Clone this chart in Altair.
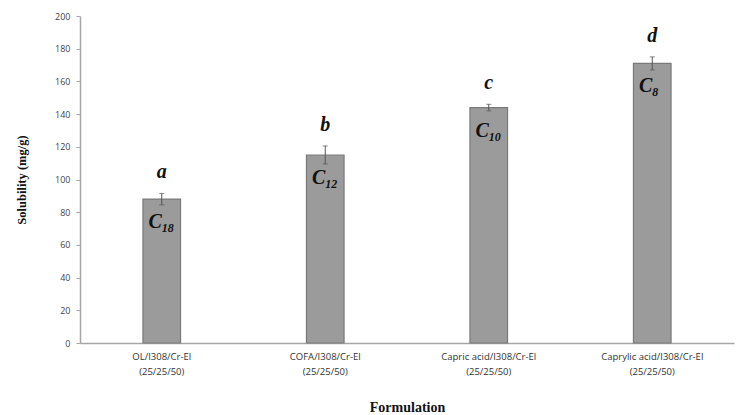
import altair as alt
import pandas as pd

categories = ["OL/I308/Cr-El|(25/25/50)", "COFA/I308/Cr-El|(25/25/50)",
              "Capric acid/I308/Cr-El|(25/25/50)", "Caprylic acid/I308/Cr-El|(25/25/50)"]
solubility = [88, 115, 144, 171]
errors = [3.5, 5.5, 2, 4]
letters = ["a", "b", "c", "d"]
carbon_sub = ["18", "12", "10", "8"]
y_ticks = [0, 20, 40, 60, 80, 100, 120, 140, 160, 180, 200]

df = pd.DataFrame({
    "cat": categories,
    "val": solubility,
    "err": errors,
    "letter": letters,
    "sub": carbon_sub,
})
df["lo"] = df["val"] - df["err"]
df["hi"] = df["val"] + df["err"]
df["C"] = "C"

xaxis = alt.Axis(labelExpr="split(datum.label, '|')", labelAngle=0,
                 labelFont="Open Sans", labelFontSize=9.5, labelColor="#333333",
                 labelLineHeight=15, labelPadding=8,
                 ticks=False, domainColor="#a6a6a6", domainWidth=1.5,
                 titleFont="Liberation Serif", titleFontSize=14, titleFontWeight="bold",
                 titleColor="#111111", titlePadding=25)
xscale = alt.Scale(paddingInner=0.77, paddingOuter=0.385)

yaxis = alt.Axis(values=y_ticks, grid=False, labelOverlap=False,
                 labelFont="Open Sans", labelFontSize=9, labelColor="#444444",
                 labelPadding=6, tickSize=4, tickColor="#a6a6a6",
                 domainColor="#a6a6a6", domainWidth=1.5,
                 titleFont="Liberation Serif", titleFontSize=12.5, titleFontWeight="bold",
                 titleColor="#111111", titlePadding=26)
yscale = alt.Scale(domain=[0, 200], nice=False)
ytitle = "Solubility (mg/g)"

def xc():
    return alt.X("cat:N", sort=categories, title="Formulation", scale=xscale, axis=xaxis)

def yc(field):
    return alt.Y(field, scale=yscale, title=ytitle, axis=yaxis)

base = alt.Chart(df)

bars = base.mark_bar(color="#9b9b9b", stroke="#7a7a7a", strokeWidth=1.2).encode(
    x=xc(), y=yc("val:Q"),
)

errbars = base.mark_rule(color="#555555", strokeWidth=1).encode(
    x=xc(), y=yc("lo:Q"), y2="hi:Q",
)

caps_hi = base.mark_tick(color="#555555", thickness=1, size=5, orient="horizontal").encode(
    x=xc(), y=yc("hi:Q"),
)
caps_lo = base.mark_tick(color="#555555", thickness=1, size=5, orient="horizontal").encode(
    x=xc(), y=yc("lo:Q"),
)

letter_txt = base.mark_text(font="Liberation Serif", fontSize=20, fontWeight="bold",
                            fontStyle="italic", color="#111111", dy=-11, baseline="bottom").encode(
    x=xc(), y=yc("hi:Q"), text="letter:N",
)

c_txt = base.mark_text(font="Liberation Serif", fontSize=20, fontWeight="bold",
                       fontStyle="italic", color="#111111", align="right", dx=0, dy=23,
                       baseline="middle").encode(
    x=xc(), y=yc("val:Q"), text="C:N",
)

sub_txt = base.mark_text(font="Liberation Serif", fontSize=12, fontWeight="bold",
                         fontStyle="italic", color="#111111", align="left", dx=0, dy=29,
                         baseline="middle").encode(
    x=xc(), y=yc("val:Q"), text="sub:N",
)

chart = alt.layer(bars, errbars, caps_hi, caps_lo, letter_txt, c_txt, sub_txt).properties(
    width=654, height=327,
    background="white",
    autosize=alt.AutoSizeParams(type="none"),
    padding={"left": 80, "top": 16, "right": 7, "bottom": 72},
).configure_view(stroke=None)

chart.save("out.html", embed_options={"renderer": "svg", "actions": False})
